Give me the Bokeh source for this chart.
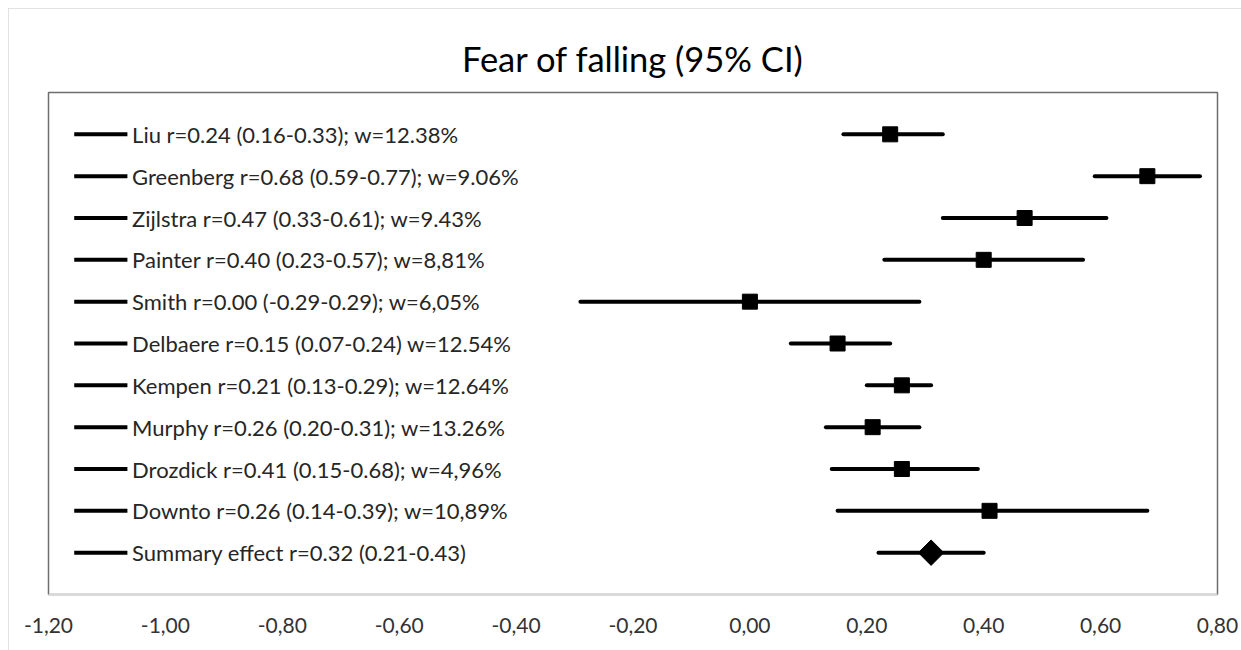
import numpy as np
from bokeh.plotting import figure
from bokeh.models import Range1d, FixedTicker, ColumnDataSource
from bokeh.core.properties import value
from bokeh.embed import file_html
from bokeh.resources import INLINE

# ---------------- data ----------------
study_labels = [
    "Liu r=0.24 (0.16-0.33); w=12.38%",
    "Greenberg r=0.68 (0.59-0.77); w=9.06%",
    "Zijlstra r=0.47 (0.33-0.61); w=9.43%",
    "Painter r=0.40 (0.23-0.57); w=8,81%",
    "Smith r=0.00 (-0.29-0.29); w=6,05%",
    "Delbaere r=0.15 (0.07-0.24) w=12.54%",
    "Kempen r=0.21 (0.13-0.29); w=12.64%",
    "Murphy r=0.26 (0.20-0.31); w=13.26%",
    "Drozdick r=0.41 (0.15-0.68); w=4,96%",
    "Downto r=0.26 (0.14-0.39); w=10,89%",
]
effect = [0.24, 0.68, 0.47, 0.40, 0.00, 0.15, 0.26, 0.21, 0.26, 0.41]
ci_low = [0.16, 0.59, 0.33, 0.23, -0.29, 0.07, 0.20, 0.13, 0.14, 0.15]
ci_high = [0.33, 0.77, 0.61, 0.57, 0.29, 0.24, 0.31, 0.29, 0.39, 0.68]

summary_label = "Summary effect r=0.32 (0.21-0.43)"
summary_effect = [0.31]
summary_low = [0.22]
summary_high = [0.40]

tick_values = [-1.2, -1.0, -0.8, -0.6, -0.4, -0.2, 0.0, 0.2, 0.4, 0.6, 0.8]
tick_labels = ["-1,20", "-1,00", "-0,80", "-0,60", "-0,40", "-0,20",
               "0,00", "0,20", "0,40", "0,60", "0,80"]

title_text = "Fear of falling (95% CI)"

# ---------------- layout / style constants ----------------
FONT = "Lato"
LEG_X0, LEG_X1, TEXT_X = -1.156, -1.065, -1.057

n_rows = len(study_labels) + 1
row_y = list(range(n_rows, 0, -1))
study_y = row_y[:-1]
summary_y = row_y[-1:]

p = figure(width=1233, height=642, output_backend="svg", toolbar_location=None,
           x_range=Range1d(tick_values[0], tick_values[-1]),
           y_range=Range1d(0, n_rows + 1),
           y_axis_location=None,
           min_border_left=40, min_border_right=24,
           min_border_top=84, min_border_bottom=56,
           background_fill_color="white", border_fill_color="white")
p.styles = {"margin-left": "8px", "margin-top": "8px",
            "outline": "1px solid #d9d9d9", "outline-offset": "-1px"}

p.title.text = title_text
p.title.text_font = FONT
p.title.text_font_size = "34.5px"
p.title.text_font_style = "normal"
p.title.text_color = "#000000"
p.title.align = "center"
p.title.standoff = 28

p.xgrid.visible = False
p.ygrid.visible = False
p.outline_line_color = "#6e6e6e"
p.outline_line_width = 1.5

ax = p.xaxis[0]
ax.ticker = FixedTicker(ticks=tick_values)
ax.major_label_overrides = {v: s for v, s in zip(tick_values, tick_labels)}
ax.major_tick_line_color = None
ax.minor_tick_line_color = None
ax.axis_line_color = "#d9d9d9"
ax.axis_line_width = 1.5
ax.major_label_text_font = FONT
ax.major_label_text_font_size = "21px"
ax.major_label_text_color = "#333333"
ax.major_label_standoff = 17

# study rows
src = ColumnDataSource(dict(y=study_y, eff=effect, lo=ci_low, hi=ci_high,
                            lab=study_labels))
p.segment(x0="lo", x1="hi", y0="y", y1="y", source=src,
          line_color="black", line_width=4, line_cap="round")
p.scatter(x="eff", y="y", source=src, marker="square", size=15,
          fill_color="black", line_color="black")

# summary row
ssrc = ColumnDataSource(dict(y=summary_y, eff=summary_effect, lo=summary_low,
                             hi=summary_high, lab=[summary_label]))
p.segment(x0="lo", x1="hi", y0="y", y1="y", source=ssrc,
          line_color="black", line_width=4, line_cap="round")
p.scatter(x="eff", y="y", source=ssrc, marker="square", angle=np.pi / 4,
          size=18, fill_color="black", line_color="black")

# left-hand key lines and labels
all_labels = study_labels + [summary_label]
ksrc = ColumnDataSource(dict(y=row_y, lab=all_labels,
                             x0=[LEG_X0] * n_rows, x1=[LEG_X1] * n_rows,
                             tx=[TEXT_X] * n_rows))
p.segment(x0="x0", x1="x1", y0="y", y1="y", source=ksrc,
          line_color="black", line_width=4)
p.text(x="tx", y="y", text="lab", source=ksrc, text_font=value(FONT),
       text_font_size="22px", text_baseline="middle", text_align="left",
       text_color="#262626")

open("out.html", "w").write(file_html(p, INLINE))
